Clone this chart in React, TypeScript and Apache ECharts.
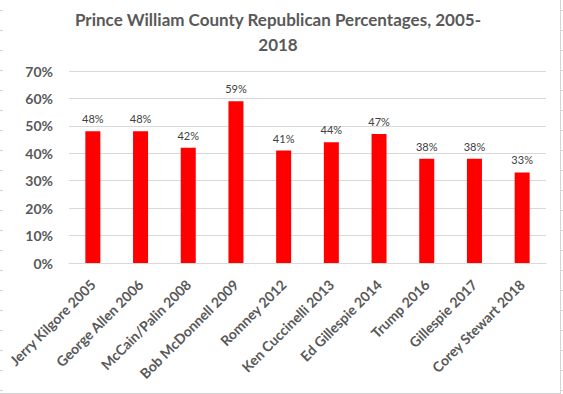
import React, { useEffect, useRef } from "react";
import * as echarts from "echarts";

const categories = [
  "Jerry Kilgore 2005",
  "George Allen 2006",
  "McCain/Palin 2008",
  "Bob McDonnell 2009",
  "Romney 2012",
  "Ken Cuccinelli 2013",
  "Ed Gillespie 2014",
  "Trump 2016",
  "Gillespie 2017",
  "Corey Stewart 2018",
];
const values = [48, 48, 42, 59, 41, 44, 47, 38, 38, 33];
const titleText = "Prince William County Republican Percentages, 2005-\n2018";

export default function App() {
  const ref = useRef<HTMLDivElement>(null);
  useEffect(() => {
    if (!ref.current) return;
    const chart = echarts.init(ref.current, undefined, { renderer: "svg" });
    const font = "Lato, 'Open Sans', sans-serif";
    const gridColor = "#d9d9d9";
    const sheet = "#d4d4d4";
    const graphics: any[] = [
      { type: "line", shape: { x1: 560.5, y1: 0, x2: 560.5, y2: 393 }, style: { stroke: sheet, lineWidth: 1 }, silent: true },
      { type: "line", shape: { x1: 0, y1: 393.5, x2: 561, y2: 393.5 }, style: { stroke: sheet, lineWidth: 1 }, silent: true },
    ];
    for (let y = 10; y < 394; y += 20) {
      graphics.push({ type: "line", shape: { x1: 0, y1: y + 0.5, x2: 3, y2: y + 0.5 }, style: { stroke: sheet, lineWidth: 1 }, silent: true });
      graphics.push({ type: "line", shape: { x1: 560, y1: y + 0.5, x2: 563, y2: y + 0.5 }, style: { stroke: sheet, lineWidth: 1 }, silent: true });
    }
    chart.setOption({
      animation: false,
      backgroundColor: "#ffffff",
      title: {
        text: titleText,
        left: 273,
        textAlign: "center",
        top: 2,
        textStyle: {
          fontFamily: font,
          fontWeight: "bold",
          fontSize: 17,
          color: "#595959",
          lineHeight: 25,
        },
      },
      grid: { left: 69, right: 17, top: 71, bottom: 131, containLabel: false },
      xAxis: {
        type: "category",
        data: categories,
        axisLine: { lineStyle: { color: gridColor } },
        axisTick: { show: false },
        axisLabel: {
          rotate: 45,
          interval: 0,
          margin: 19,
          fontFamily: font,
          fontWeight: "bold",
          fontSize: 14,
          color: "#595959",
        },
      },
      yAxis: {
        type: "value",
        min: 0,
        max: 70,
        interval: 10,
        axisLine: { show: false },
        axisTick: { show: false },
        splitLine: { lineStyle: { color: gridColor } },
        axisLabel: {
          formatter: "{value}%",
          margin: 16,
          fontFamily: font,
          fontWeight: "bold",
          fontSize: 14,
          color: "#595959",
        },
      },
      series: [
        {
          type: "bar",
          data: values,
          barWidth: 15,
          itemStyle: { color: "#ff0000" },
          label: {
            show: true,
            position: "top",
            distance: 7,
            formatter: "{c}%",
            fontFamily: font,
            fontSize: 11,
            color: "#404040",
          },
        },
      ],
      graphic: graphics,
    });
    return () => chart.dispose();
  }, []);
  return (
    <div
      ref={ref}
      style={{ position: "fixed", left: 0, top: 0, width: 563, height: 394 }}
    />
  );
}
